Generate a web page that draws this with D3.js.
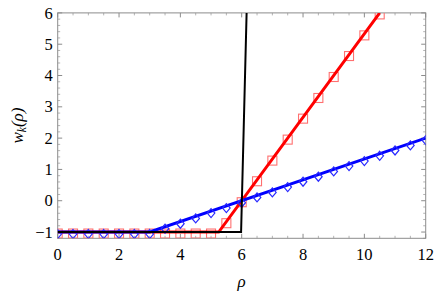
<!DOCTYPE html>
<html>
<head>
<meta charset="utf-8">
<script src="https://cdn.jsdelivr.net/npm/d3@7"></script>
<style>
  html, body { margin: 0; padding: 0; background: #fff; }
  svg { display: block; }
</style>
</head>
<body>
<svg id="chart" width="436" height="295"></svg>
<script>
// ---- data ----
const blackLineX = [0, 5.98, 6.16];
const blackLineY = [-1, -1, 6];
const redLineX = [0, 5.25, 10.5];
const redLineY = [-1, -1, 6];
const blueLineX = [0, 3, 12];
const blueLineY = [-1, -1, 2];

const redMarkX = [0, 0.5, 1, 1.5, 2, 2.5, 3, 3.5, 4, 4.5, 5, 5.5, 6, 6.5, 7, 7.5, 8, 8.5, 9, 9.5, 10, 10.5];
const redMarkY = [-1, -1, -1, -1, -1, -1, -1, -1, -1, -1, -1, -0.67, 0, 0.67, 1.33, 2, 2.67, 3.33, 4, 4.67, 5.33, 6];
const blueMarkX = [0, 0.5, 1, 1.5, 2, 2.5, 3, 3.5, 4, 4.5, 5, 5.5, 6, 6.5, 7, 7.5, 8, 8.5, 9, 9.5, 10, 10.5, 11, 11.5, 12];
const blueMarkY = [-1, -1, -1, -1, -1, -1, -1, -0.83, -0.67, -0.5, -0.33, -0.17, 0, 0.17, 0.33, 0.5, 0.67, 0.83, 1, 1.17, 1.33, 1.5, 1.67, 1.83, 2];

const xTicks = [0, 2, 4, 6, 8, 10, 12];
const yTicks = [-1, 0, 1, 2, 3, 4, 5, 6];
const xDomain = [0, 12];
const yDomain = [-1.2, 6];

// ---- layout ----
const FONT = "'Liberation Serif', 'Times New Roman', serif";
const svg = d3.select("#chart");
const pL = 57.7, pR = 425.7, pT = 12.9, pB = 238.3;

const x = d3.scaleLinear().domain(xDomain).range([pL, pR]);
const y = d3.scaleLinear().domain(yDomain).range([pB, pT]);

svg.append("defs").append("clipPath").attr("id", "clip")
  .append("rect").attr("x", pL).attr("y", pT)
  .attr("width", pR - pL).attr("height", pB - pT);

const frameColor = "#8c8c8c";
const minorColor = "#b4b4b4";

// minor ticks
const xMinor = d3.range(0, 12.001, 0.5).filter(v => Math.abs(v % 2) > 1e-6);
const yMinor = d3.range(-1.2, 6.001, 0.2).map(v => Math.round(v * 10) / 10).filter(v => Math.abs(v - Math.round(v)) > 1e-6);

const ticksG = svg.append("g");
function vTick(xv, y0, len, col) {
  ticksG.append("line").attr("x1", x(xv)).attr("x2", x(xv)).attr("y1", y0).attr("y2", y0 + len)
    .attr("stroke", col).attr("stroke-width", 1);
}
function hTick(yv, x0, len, col) {
  ticksG.append("line").attr("y1", y(yv)).attr("y2", y(yv)).attr("x1", x0).attr("x2", x0 + len)
    .attr("stroke", col).attr("stroke-width", 1);
}
xMinor.forEach(v => { vTick(v, pB, -2.5, minorColor); vTick(v, pT, 2.5, minorColor); });
xTicks.forEach(v => { vTick(v, pB, -4.5, frameColor); vTick(v, pT, 4.5, frameColor); });
yMinor.forEach(v => { hTick(v, pL, 2.5, minorColor); hTick(v, pR, -2.5, minorColor); });
yTicks.forEach(v => { hTick(v, pL, 4.5, frameColor); hTick(v, pR, -4.5, frameColor); });

// frame
svg.append("rect").attr("x", pL).attr("y", pT).attr("width", pR - pL).attr("height", pB - pT)
  .attr("fill", "none").attr("stroke", frameColor).attr("stroke-width", 1);

// tick labels
svg.append("g").selectAll("text").data(xTicks).join("text")
  .attr("x", d => x(d)).attr("y", 260).attr("text-anchor", "middle")
  .attr("font-family", FONT).attr("font-size", 16.5).attr("fill", "#000").text(d => d);
svg.append("g").selectAll("text").data(yTicks).join("text")
  .attr("x", pL - 5).attr("y", d => y(d)).attr("dy", "0.34em").attr("text-anchor", "end")
  .attr("font-family", FONT).attr("font-size", 16.5).attr("fill", "#000").text(d => d < 0 ? "\u2212" + Math.abs(d) : d);

// axis labels
const yl = svg.append("text").attr("transform", `translate(23, ${(pT + pB) / 2}) rotate(-90)`)
  .attr("text-anchor", "middle").attr("font-family", FONT).attr("font-size", 17).attr("font-style", "italic");
yl.append("tspan").text("w");
yl.append("tspan").attr("font-size", 11.5).attr("dy", 3).text("k");
yl.append("tspan").attr("dy", -3).text("(ρ)");

svg.append("text").attr("x", (pL + pR) / 2).attr("y", 287).attr("text-anchor", "middle")
  .attr("font-family", FONT).attr("font-size", 17).attr("font-style", "italic").text("ρ");

// lines
const plot = svg.append("g").attr("clip-path", "url(#clip)");
const line = d3.line().x(d => x(d[0])).y(d => y(d[1]));
const toPts = (xs, ys) => xs.map((v, i) => [v, ys[i]]);

// markers (slightly below data, like glyph markers)
const markOff = 1.5;
plot.append("g").selectAll("rect").data(toPts(redMarkX, redMarkY)).join("rect")
  .attr("x", d => x(d[0]) - 4.5).attr("y", d => y(d[1]) - 4.5 + markOff)
  .attr("width", 9).attr("height", 9)
  .attr("fill", "none").attr("stroke", "#ff7070").attr("stroke-width", 1.1);

plot.append("path").attr("d", line(toPts(redLineX, redLineY)))
  .attr("fill", "none").attr("stroke", "#ff0000").attr("stroke-width", 3);
plot.append("path").attr("d", line(toPts(blueLineX, blueLineY)))
  .attr("fill", "none").attr("stroke", "#0000ff").attr("stroke-width", 3);

plot.append("g").selectAll("path").data(toPts(blueMarkX, blueMarkY)).join("path")
  .attr("transform", d => `translate(${x(d[0])},${y(d[1]) + markOff + 0.5})`)
  .attr("d", "M0,-4.5L3.8,0L0,4.5L-3.8,0Z")
  .attr("fill", "none").attr("stroke", "#2a2aff").attr("stroke-width", 1.2);

plot.append("path").attr("d", line(toPts(blackLineX, blackLineY)))
  .attr("fill", "none").attr("stroke", "#000").attr("stroke-width", 2);
</script>
</body>
</html>
